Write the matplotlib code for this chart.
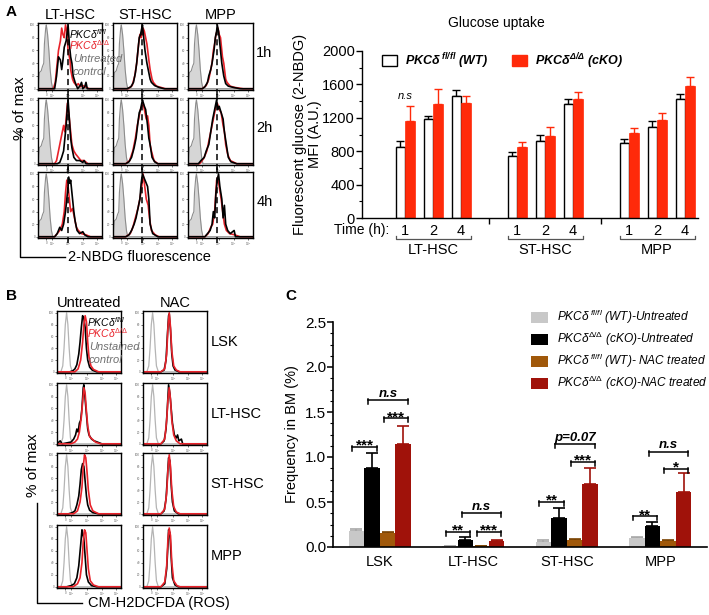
import numpy as np
import matplotlib
matplotlib.use('Agg')
import matplotlib.pyplot as plt
from matplotlib.patches import Patch
from matplotlib.lines import Line2D
from matplotlib.ticker import MultipleLocator

plt.rcParams['font.family'] = ['Liberation Sans', 'DejaVu Sans']
plt.rcParams['mathtext.fontset'] = 'custom'
plt.rcParams['mathtext.rm'] = 'Liberation Sans'
plt.rcParams['mathtext.it'] = 'Liberation Sans:italic'
plt.rcParams['mathtext.bf'] = 'Liberation Sans:italic:bold'

# ---- panel A, bar chart (glucose uptake, MFI) ----
populations = ['LT-HSC', 'ST-HSC', 'MPP']
times = ['1', '2', '4']
wt_mfi = [850, 1180, 1460, 745, 920, 1360, 900, 1090, 1430]
wt_err = [70, 45, 75, 40, 80, 60, 45, 70, 50]
ko_mfi = [1160, 1370, 1380, 850, 980, 1420, 1015, 1170, 1575]
ko_err = [180, 170, 80, 60, 105, 85, 60, 85, 110]

# ---- panel C, frequency in BM (%) ----
c_groups = ['LSK', 'LT-HSC', 'ST-HSC', 'MPP']
wt_untr = [0.18, 0.01, 0.055, 0.10]
wt_untr_err = [0.015, 0.005, 0.025, 0.01]
ko_untr = [0.88, 0.08, 0.32, 0.235]
ko_untr_err = [0.16, 0.03, 0.11, 0.045]
wt_nac = [0.16, 0.01, 0.08, 0.07]
wt_nac_err = [0.01, 0.004, 0.005, 0.01]
ko_nac = [1.14, 0.07, 0.70, 0.61]
ko_nac_err = [0.20, 0.005, 0.18, 0.21]

sig_group = [0, 0, 0, 1, 1, 1, 2, 2, 2, 3, 3, 3]
sig_left = [0, 1, 2, 0, 2, 1, 0, 2, 1, 0, 2, 1]
sig_right = [1, 3, 3, 1, 3, 3, 1, 3, 3, 1, 3, 3]
sig_height = [1.11, 1.63, 1.43, 0.17, 0.17, 0.38, 0.50, 0.95, 1.14, 0.34, 0.87, 1.06]
sig_text = ['***', 'n.s', '***', '**', '***', 'n.s', '**', '***', 'p=0.07', '**', '*', 'n.s']

# ---- panel A histograms (x = fraction of display width, y = % of max) ----
a_gray = [(0.00, 0), (0.02, 25), (0.05, 28), (0.07, 35), (0.09, 40), (0.10, 70), (0.12, 95),
          (0.13, 100), (0.15, 85), (0.17, 60), (0.19, 30), (0.21, 10), (0.23, 0)]
a_lt1_k = [(0.26, 0), (0.29, 20), (0.32, 50), (0.35, 45), (0.37, 30), (0.39, 45), (0.41, 65), (0.44, 75),
           (0.47, 100), (0.49, 70), (0.51, 50), (0.53, 40), (0.55, 20), (0.58, 10), (0.62, 0), (0.66, 5),
           (0.68, 10), (0.70, 0), (0.73, 3), (0.75, 10), (0.77, 0)]
a_lt1_r = [(0.24, 0), (0.27, 10), (0.29, 30), (0.32, 60), (0.35, 75), (0.37, 95), (0.39, 85), (0.41, 80),
           (0.43, 100), (0.45, 90), (0.47, 60), (0.50, 45), (0.51, 30), (0.54, 15), (0.56, 10), (0.60, 5),
           (0.63, 8), (0.66, 3), (0.70, 5), (0.74, 3), (0.80, 0)]
a_st1_k = [(0.22, 0), (0.28, 3), (0.32, 10), (0.35, 25), (0.37, 40), (0.39, 60), (0.41, 80), (0.43, 85),
           (0.45, 95), (0.46, 100), (0.48, 80), (0.50, 60), (0.53, 40), (0.55, 30), (0.58, 15), (0.60, 10),
           (0.65, 5), (0.72, 2), (0.80, 0)]
a_st1_r = [(0.24, 0), (0.30, 5), (0.34, 20), (0.37, 40), (0.40, 70), (0.42, 85), (0.44, 80), (0.47, 95),
           (0.49, 90), (0.51, 80), (0.53, 70), (0.56, 45), (0.58, 30), (0.61, 15), (0.63, 10), (0.68, 4),
           (0.75, 2), (0.82, 0)]
a_mp1_k = [(0.22, 0), (0.26, 3), (0.30, 10), (0.32, 20), (0.35, 30), (0.37, 40), (0.40, 60), (0.42, 80),
           (0.44, 90), (0.45, 100), (0.47, 90), (0.50, 60), (0.52, 40), (0.55, 20), (0.58, 8), (0.62, 4),
           (0.70, 2), (0.80, 0)]
a_mp1_r = [(0.22, 0), (0.28, 5), (0.32, 15), (0.35, 30), (0.37, 40), (0.39, 60), (0.41, 70), (0.43, 85),
           (0.46, 95), (0.48, 85), (0.50, 80), (0.53, 50), (0.55, 40), (0.58, 15), (0.60, 10), (0.65, 4),
           (0.72, 2), (0.85, 0)]
a_lt2_k = [(0.30, 0), (0.34, 2), (0.37, 10), (0.40, 20), (0.42, 40), (0.44, 60), (0.46, 90), (0.47, 100),
           (0.49, 70), (0.51, 40), (0.53, 25), (0.56, 10), (0.60, 5), (0.65, 5), (0.70, 2), (0.72, 5),
           (0.75, 0)]
a_lt2_r = [(0.26, 0), (0.29, 5), (0.32, 20), (0.36, 40), (0.38, 50), (0.40, 60), (0.42, 50), (0.44, 70),
           (0.46, 95), (0.48, 80), (0.50, 60), (0.53, 30), (0.56, 20), (0.59, 15), (0.63, 10), (0.67, 5),
           (0.72, 5), (0.78, 0)]
a_st2_k = [(0.20, 0), (0.25, 3), (0.29, 10), (0.33, 25), (0.36, 40), (0.39, 65), (0.41, 80), (0.43, 85),
           (0.45, 95), (0.46, 100), (0.49, 90), (0.51, 85), (0.54, 60), (0.56, 40), (0.58, 30), (0.61, 10),
           (0.65, 3), (0.70, 0)]
a_st2_r = [(0.20, 0), (0.26, 5), (0.31, 20), (0.35, 40), (0.38, 60), (0.41, 75), (0.43, 85), (0.45, 90),
           (0.47, 95), (0.50, 80), (0.52, 70), (0.54, 75), (0.56, 60), (0.58, 30), (0.60, 20), (0.64, 5),
           (0.70, 0)]
a_mp2_k = [(0.16, 0), (0.20, 5), (0.25, 10), (0.28, 20), (0.32, 30), (0.35, 50), (0.38, 70), (0.41, 85),
           (0.44, 100), (0.46, 85), (0.48, 90), (0.51, 80), (0.54, 70), (0.56, 50), (0.59, 30), (0.62, 10),
           (0.66, 3), (0.75, 0)]
a_mp2_r = [(0.18, 0), (0.24, 8), (0.29, 20), (0.33, 40), (0.37, 60), (0.40, 75), (0.43, 90), (0.45, 95),
           (0.48, 85), (0.51, 80), (0.54, 60), (0.56, 50), (0.58, 30), (0.61, 15), (0.65, 5), (0.75, 0)]
a_lt4_k = [(0.26, 0), (0.30, 5), (0.34, 15), (0.37, 10), (0.40, 20), (0.43, 40), (0.45, 60), (0.47, 80),
           (0.48, 95), (0.50, 85), (0.51, 90), (0.53, 70), (0.56, 40), (0.58, 25), (0.61, 10), (0.65, 5),
           (0.70, 8), (0.73, 3), (0.78, 0)]
a_lt4_r = [(0.26, 0), (0.30, 5), (0.34, 10), (0.38, 20), (0.41, 40), (0.43, 70), (0.45, 90), (0.47, 80),
           (0.49, 60), (0.51, 40), (0.54, 45), (0.57, 30), (0.60, 15), (0.63, 10), (0.68, 5), (0.75, 3),
           (0.82, 0)]
a_st4_k = [(0.20, 0), (0.25, 3), (0.29, 10), (0.33, 20), (0.36, 30), (0.39, 45), (0.42, 60), (0.44, 85),
           (0.46, 100), (0.48, 95), (0.50, 90), (0.52, 85), (0.54, 80), (0.56, 60), (0.58, 20), (0.62, 5),
           (0.70, 0)]
a_st4_r = [(0.20, 0), (0.27, 5), (0.31, 15), (0.35, 30), (0.39, 45), (0.42, 60), (0.45, 80), (0.47, 100),
           (0.49, 85), (0.52, 60), (0.55, 50), (0.57, 30), (0.60, 10), (0.66, 3), (0.72, 0)]
a_mp4_k = [(0.26, 0), (0.30, 5), (0.34, 10), (0.37, 20), (0.39, 40), (0.41, 30), (0.43, 70), (0.45, 90),
           (0.47, 100), (0.49, 80), (0.52, 60), (0.54, 30), (0.56, 50), (0.58, 20), (0.61, 10), (0.65, 5),
           (0.71, 10), (0.73, 0)]
a_mp4_r = [(0.26, 0), (0.31, 5), (0.35, 15), (0.38, 20), (0.41, 40), (0.44, 90), (0.46, 95), (0.48, 80),
           (0.51, 60), (0.54, 35), (0.56, 20), (0.59, 10), (0.64, 5), (0.72, 3), (0.80, 0)]

# ---- panel B histograms ----
b_gray = [(0.00, 0), (0.06, 0), (0.09, 10), (0.11, 40), (0.13, 80), (0.15, 100), (0.17, 80),
          (0.19, 40), (0.21, 10), (0.24, 0)]
b_lsk_u_k = [(0.20, 0), (0.25, 2), (0.28, 5), (0.31, 12), (0.34, 30), (0.36, 50), (0.38, 75), (0.40, 95),
             (0.42, 90), (0.44, 75), (0.46, 40), (0.48, 20), (0.51, 8), (0.55, 3), (0.62, 0)]
b_lsk_u_r = [(0.28, 0), (0.33, 5), (0.37, 20), (0.40, 50), (0.42, 80), (0.44, 95), (0.46, 85), (0.48, 50),
             (0.50, 25), (0.53, 10), (0.57, 4), (0.65, 0)]
b_lsk_n_k = [(0.28, 0), (0.33, 3), (0.36, 20), (0.38, 60), (0.40, 95), (0.41, 98), (0.43, 70), (0.45, 30),
             (0.47, 10), (0.50, 3), (0.56, 0)]
b_lsk_n_r = [(0.28, 0), (0.34, 5), (0.37, 30), (0.39, 75), (0.41, 100), (0.43, 75), (0.45, 35), (0.48, 10),
             (0.52, 3), (0.58, 0)]
b_lt_u_k = [(0.00, 0), (0.05, 5), (0.08, 0), (0.22, 3), (0.26, 8), (0.29, 15), (0.31, 25), (0.33, 20),
            (0.35, 35), (0.37, 40), (0.39, 60), (0.41, 95), (0.42, 100), (0.44, 75), (0.46, 50), (0.48, 25),
            (0.50, 15), (0.54, 8), (0.58, 5), (0.63, 3), (0.70, 0)]
b_lt_u_r = [(0.22, 0), (0.28, 3), (0.32, 8), (0.35, 20), (0.38, 45), (0.40, 70), (0.42, 95), (0.44, 85),
            (0.46, 55), (0.48, 30), (0.51, 12), (0.55, 8), (0.60, 3), (0.68, 0)]
b_lt_n_k = [(0.28, 0), (0.33, 5), (0.36, 25), (0.38, 60), (0.40, 100), (0.42, 85), (0.44, 60), (0.46, 35),
            (0.49, 15), (0.52, 10), (0.54, 15), (0.56, 5), (0.60, 8), (0.62, 0)]
b_lt_n_r = [(0.28, 0), (0.34, 8), (0.37, 40), (0.39, 75), (0.41, 95), (0.43, 75), (0.45, 40), (0.48, 15),
            (0.52, 5), (0.58, 0)]
b_st_u_k = [(0.18, 0), (0.24, 2), (0.28, 5), (0.31, 15), (0.34, 30), (0.36, 50), (0.38, 75), (0.40, 85),
            (0.42, 80), (0.44, 55), (0.46, 30), (0.48, 15), (0.51, 6), (0.56, 2), (0.65, 0)]
b_st_u_r = [(0.26, 0), (0.32, 5), (0.36, 20), (0.39, 45), (0.41, 80), (0.43, 100), (0.45, 95), (0.47, 70),
            (0.49, 40), (0.52, 15), (0.56, 5), (0.65, 0)]
b_st_n_k = [(0.28, 0), (0.33, 5), (0.36, 25), (0.38, 60), (0.40, 95), (0.42, 90), (0.44, 50), (0.46, 20),
            (0.49, 5), (0.55, 0)]
b_st_n_r = [(0.28, 0), (0.34, 8), (0.37, 35), (0.39, 75), (0.41, 100), (0.43, 80), (0.45, 40), (0.48, 12),
            (0.52, 3), (0.58, 0)]
b_mp_u_k = [(0.15, 0), (0.22, 2), (0.27, 5), (0.31, 15), (0.34, 35), (0.37, 70), (0.39, 95), (0.40, 90),
            (0.42, 80), (0.44, 50), (0.46, 20), (0.49, 8), (0.54, 2), (0.62, 0)]
b_mp_u_r = [(0.25, 0), (0.32, 5), (0.36, 15), (0.39, 40), (0.41, 75), (0.43, 95), (0.45, 90), (0.47, 60),
            (0.49, 30), (0.52, 10), (0.57, 3), (0.65, 0)]
b_mp_n_k = [(0.28, 0), (0.34, 5), (0.37, 30), (0.39, 70), (0.40, 95), (0.42, 90), (0.44, 50), (0.46, 15),
            (0.50, 3), (0.55, 0)]
b_mp_n_r = [(0.28, 0), (0.34, 8), (0.37, 35), (0.39, 80), (0.41, 98), (0.43, 85), (0.45, 40), (0.48, 10),
            (0.53, 2), (0.58, 0)]

a_curves = [[(a_lt1_k, a_lt1_r), (a_st1_k, a_st1_r), (a_mp1_k, a_mp1_r)],
            [(a_lt2_k, a_lt2_r), (a_st2_k, a_st2_r), (a_mp2_k, a_mp2_r)],
            [(a_lt4_k, a_lt4_r), (a_st4_k, a_st4_r), (a_mp4_k, a_mp4_r)]]
b_curves = [[(b_lsk_u_k, b_lsk_u_r), (b_lsk_n_k, b_lsk_n_r)],
            [(b_lt_u_k, b_lt_u_r), (b_lt_n_k, b_lt_n_r)],
            [(b_st_u_k, b_st_u_r), (b_st_n_k, b_st_n_r)],
            [(b_mp_u_k, b_mp_u_r), (b_mp_n_k, b_mp_n_r)]]
a_rows = ['1h', '2h', '4h']
b_rows = ['LSK', 'LT-HSC', 'ST-HSC', 'MPP']
dash_pos = [0.47, 0.46, 0.45]

RED = '#e8222a'
W, H = 709, 615
fig = plt.figure(figsize=(W / 100, H / 100), dpi=100)


def px_axes(x0, y0, x1, y1):
    return fig.add_axes([x0 / W, 1 - y1 / H, (x1 - x0) / W, (y1 - y0) / H])


def ftext(x, y, s, **kw):
    fig.text(x / W, 1 - y / H, s, **kw)


def fline(xs, ys, **kw):
    fig.add_artist(Line2D([x / W for x in xs], [1 - y / H for y in ys], color='k', lw=1.0, **kw))


def curve(pts):
    xs = [0.0] + [p[0] for p in pts] + [1.0]
    ys = [0.0] + [p[1] for p in pts] + [0.0]
    return xs, ys


def hist_axes(ax):
    ax.set_xlim(0, 1)
    ax.set_ylim(-2, 103)
    ax.set_yticks([0, 20, 40, 60, 80, 100])
    ax.set_xticks([0.13, 0.22, 0.47, 0.70, 0.92], ['0', '10$^2$', '10$^3$', '10$^4$', '10$^5$'])
    ax.tick_params(labelsize=2.2, length=1.5, width=0.4, pad=0.6, labelcolor='#666666')
    for s in ax.spines.values():
        s.set_linewidth(1.0)


# ---------------- panel A histograms ----------------
a_cols = [(38, 102), (113, 177), (188, 253)]
a_rowy = [(23, 90), (98, 165), (172, 238)]
for r, (y0, y1) in enumerate(a_rowy):
    for c, (x0, x1) in enumerate(a_cols):
        ax = px_axes(x0, y0, x1, y1)
        gx, gy = curve(a_gray)
        ax.fill_between(gx, gy, color='#d6d6d6', lw=0)
        ax.plot(gx, gy, color='#8c8c8c', lw=0.8)
        kx, ky = curve(a_curves[r][c][0])
        rx, ry = curve(a_curves[r][c][1])
        ax.plot(rx, ry, color=RED, lw=1.2)
        ax.plot(kx, ky, color='k', lw=1.2)
        top = 1.0 if r == 0 else 1.07
        ax.axvline(dash_pos[c], ymin=-0.07, ymax=top, color='k', lw=1.1, ls=(0, (4, 2.5)), clip_on=False)
        hist_axes(ax)
        if r == 0:
            ax.set_title(populations[c], fontsize=10.5, pad=3)
        if c == 2:
            ax.text(1.05, 0.55, a_rows[r], transform=ax.transAxes, fontsize=10.5, va='center')

# key written over the first histogram (spills onto the next one)
ftext(69, 34, 'PKCδ$^{fl/fl}$', fontsize=7.5, style='italic', color='k', va='center')
ftext(69, 45, 'PKCδ$^{\\mathit{\\Delta/\\Delta}}$', fontsize=7.5, style='italic', color=RED, va='center')
ftext(73, 59, 'Untreated', fontsize=8, style='italic', color='#707070', va='center')
ftext(73, 72, 'control', fontsize=8, style='italic', color='#707070', va='center')

ftext(6, 12, 'A', fontsize=11, fontweight='bold', va='center')
ftext(20, 108, '% of max', fontsize=11, rotation=90, ha='center', va='center')
fline([20, 20, 65], [130, 257, 257])
ftext(68, 257, '2-NBDG fluorescence', fontsize=10.5, va='center')

# ---------------- panel A bar chart ----------------
axb = px_axes(362, 51, 698, 218)
pos = np.array([g * 4 + t for g in range(3) for t in range(3)], dtype=float)
bw = 0.34
zeros = np.zeros(len(pos))
axb.bar(pos - bw / 2, wt_mfi, bw, color='white', edgecolor='k', lw=1.0, zorder=2)
axb.bar(pos + bw / 2, ko_mfi, bw, color='#ff2a0a', edgecolor='#ff2a0a', lw=0.5, zorder=2)
axb.errorbar(pos - bw / 2, wt_mfi, yerr=[zeros, wt_err], fmt='none', ecolor='k', elinewidth=1.0,
             capsize=3, capthick=1.0, zorder=1)
axb.errorbar(pos + bw / 2, ko_mfi, yerr=[zeros, ko_err], fmt='none', ecolor='#ff2a0a', elinewidth=1.0,
             capsize=3, capthick=1.0, zorder=1)
axb.set_xlim(-1.54, 10.46)
axb.set_ylim(0, 2000)
axb.yaxis.set_minor_locator(MultipleLocator(200))
axb.set_yticks([0, 400, 800, 1200, 1600, 2000])
axb.set_xticks([3, 7], ['', ''])
axb.set_xticks(pos, [times[i % 3] for i in range(9)], minor=True)
axb.tick_params(axis='x', which='major', length=4, width=1.0)
axb.tick_params(axis='x', which='minor', length=0, pad=4, labelsize=10.5)
axb.tick_params(axis='y', which='major', length=4, width=1.0, labelsize=10.5, pad=1)
axb.tick_params(axis='y', which='minor', length=2, width=0.8)
for s in ['top', 'right']:
    axb.spines[s].set_visible(False)
for s in ['left', 'bottom']:
    axb.spines[s].set_linewidth(1.0)
tr = axb.get_xaxis_transform()
for g in range(3):
    x0, x1 = g * 4 - 0.33, g * 4 + 2.35
    axb.plot([x0, x0, x1, x1], [-0.105, -0.125, -0.125, -0.105], color='#555555', lw=0.9,
             transform=tr, clip_on=False)
    axb.text(g * 4 + 1, -0.19, populations[g], transform=tr, ha='center', va='center', fontsize=10.5)
axb.text(-0.55, -0.072, 'Time (h):', transform=tr, ha='right', va='center', fontsize=10)
axb.text(0, 1400, 'n.s', ha='center', va='bottom', fontsize=8, style='italic')
axb.set_ylabel('Fluorescent glucose (2-NBDG)\nMFI (A.U.)', fontsize=10.5, labelpad=0, linespacing=1.15)
ftext(496, 23, 'Glucose uptake', fontsize=10, ha='center', va='center')
fig.legend(handles=[Patch(facecolor='white', edgecolor='k', lw=1.0),
                    Patch(facecolor='#ff2a0a', edgecolor='#ff2a0a')],
           labels=['PKCδ$^{\\ \\mathbf{fl/fl}}$ (WT)', 'PKCδ$^{\\mathbf{\\Delta/\\Delta}}$ (cKO)'],
           loc='center left', bbox_to_anchor=(382 / W, 1 - 61 / H), ncol=2, frameon=False,
           prop={'size': 9, 'weight': 'bold', 'style': 'italic'}, handlelength=1.2, handleheight=1.0,
           handletextpad=0.6, columnspacing=2.0, borderpad=0, borderaxespad=0)

# ---------------- panel B histograms ----------------
b_cols = [(57, 121), (143, 207)]
b_rowy = [(311, 373), (383, 445), (453, 515), (525, 588)]
b_titles = ['Untreated', 'NAC']
for r, (y0, y1) in enumerate(b_rowy):
    for c, (x0, x1) in enumerate(b_cols):
        ax = px_axes(x0, y0, x1, y1)
        gx, gy = curve(b_gray)
        ax.plot(gx, gy, color='#b4b4b4', lw=0.9)
        kx, ky = curve(b_curves[r][c][0])
        rx, ry = curve(b_curves[r][c][1])
        ax.plot(kx, ky, color='k', lw=1.2)
        ax.plot(rx, ry, color=RED, lw=1.2)
        hist_axes(ax)
        if r == 0:
            ax.set_title(b_titles[c], fontsize=10.5, pad=3)
        if c == 1:
            ax.text(1.06, 0.5, b_rows[r], transform=ax.transAxes, fontsize=10.5, va='center')

ftext(87, 322, 'PKCδ$^{fl/fl}$', fontsize=7.5, style='italic', color='k', va='center')
ftext(87, 333, 'PKCδ$^{\\mathit{\\Delta/\\Delta}}$', fontsize=7.5, style='italic', color=RED, va='center')
ftext(89, 347, 'Unstained', fontsize=8, style='italic', color='#707070', va='center')
ftext(89, 360, 'control', fontsize=8, style='italic', color='#707070', va='center')

ftext(6, 296, 'B', fontsize=11, fontweight='bold', va='center')
ftext(33, 465, '% of max', fontsize=11, rotation=90, ha='center', va='center')
fline([37, 37, 82], [503, 603, 603])
ftext(88, 603, 'CM-H2DCFDA (ROS)', fontsize=10.5, va='center')

# ---------------- panel C ----------------
axc = px_axes(333, 322, 707, 547)
offsets = [-1.5, -0.5, 0.5, 1.5]
centers = np.arange(len(c_groups)) * 6.0
series = [(wt_untr, wt_untr_err, '#c8c8c8', '#a8a8a8'),
          (ko_untr, ko_untr_err, '#000000', '#000000'),
          (wt_nac, wt_nac_err, '#a0580a', '#7a4200'),
          (ko_nac, ko_nac_err, '#a0120a', '#a0120a')]
for k, (vals, errs, col, ecol) in enumerate(series):
    xs = centers + offsets[k]
    axc.bar(xs, vals, 1.0, color=col, zorder=2)
    axc.errorbar(xs, vals, yerr=[np.zeros(len(vals)), errs], fmt='none', ecolor=ecol,
                 elinewidth=1.2, capsize=4, capthick=1.2, zorder=1)
for g, i, j, h, t in zip(sig_group, sig_left, sig_right, sig_height, sig_text):
    x0 = centers[g] + offsets[i] - 0.25
    x1 = centers[g] + offsets[j] + 0.3
    axc.plot([x0, x1], [h, h], color='k', lw=1.1, zorder=3)
    axc.plot([x0, x0], [h - 0.045, h + 0.01], color='k', lw=1.1, zorder=3)
    axc.plot([x1, x1], [h - 0.045, h + 0.01], color='k', lw=1.1, zorder=3)
    if t.startswith('*'):
        axc.text((x0 + x1) / 2, h - 0.03, t, ha='center', va='baseline', fontsize=11, fontweight='bold')
    else:
        axc.text((x0 + x1) / 2, h + 0.035, t, ha='center', va='baseline', fontsize=9.5,
                 fontweight='bold', style='italic')
axc.set_xlim(-3, 21)
axc.set_ylim(0, 2.5)
axc.yaxis.set_major_locator(MultipleLocator(0.5))
axc.yaxis.set_minor_locator(MultipleLocator(0.125))
axc.yaxis.set_major_formatter(matplotlib.ticker.FormatStrFormatter('%.1f'))
axc.set_xticks(centers, c_groups)
axc.tick_params(axis='x', length=0, pad=6, labelsize=10.5)
axc.tick_params(axis='y', which='major', length=4, width=1.1, labelsize=11, pad=1)
axc.tick_params(axis='y', which='minor', length=2, width=0.8)
for s in ['top', 'right']:
    axc.spines[s].set_visible(False)
for s in ['left', 'bottom']:
    axc.spines[s].set_linewidth(1.2)
axc.set_ylabel('Frequency in BM (%)', fontsize=10.5, labelpad=4)
ftext(285, 296, 'C', fontsize=11, fontweight='bold', va='center')
c_labels = ['PKCδ$^{\\ fl/fl}$ (WT)-Untreated',
            'PKCδ$^{\\mathit{\\Delta/\\Delta}}$ (cKO)-Untreated',
            'PKCδ$^{\\ fl/fl}$ (WT)- NAC treated',
            'PKCδ$^{\\mathit{\\Delta/\\Delta}}$ (cKO)-NAC treated']
fig.legend(handles=[Patch(facecolor=s[2]) for s in series], labels=c_labels,
           loc='upper left', bbox_to_anchor=(531 / W, 1 - 308 / H), frameon=False,
           prop={'size': 8.6, 'style': 'italic'}, handlelength=1.45, handleheight=1.05,
           handletextpad=0.7, labelspacing=0.32, borderpad=0, borderaxespad=0)

fig.savefig('out.png', dpi=100)
